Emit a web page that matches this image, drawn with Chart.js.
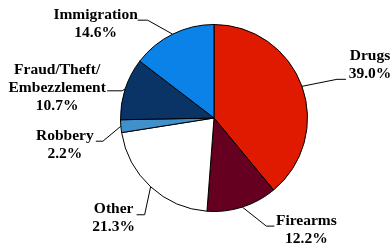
<!DOCTYPE html>
<html>
<head>
<meta charset="utf-8">
<script src="https://cdn.jsdelivr.net/npm/chart.js@4/dist/chart.umd.min.js"></script>
<style>
  html, body { margin: 0; padding: 0; background: #fff; }
  #wrap { width: 392px; height: 247px; position: relative; }
</style>
</head>
<body>
<div id="wrap"><canvas id="c"></canvas></div>
<script>
const categories = ["Drugs", "Firearms", "Other", "Robbery", "Fraud/Theft/\nEmbezzlement", "Immigration"];
const percentages = [39.0, 12.2, 21.3, 2.2, 10.7, 14.6];
const percentLabels = ["39.0%", "12.2%", "21.3%", "2.2%", "10.7%", "14.6%"];
const sliceColors = ["#E01A00", "#660020", "#FFFFFF", "#4090CC", "#0A3366", "#0A82E8"];

// Leader layout: elbow & end offsets from the arc's mid-edge point; first text line center offset from line end
const labelLayout = [
  { elbow: [35, -7],  end: [44, -7],  text: [24, -23] },
  { elbow: [24, 19],  end: [32, 19],  text: [32, -5] },
  { elbow: [-6, 28],  end: [-14, 28], text: [-23, -6] },
  { elbow: [-18, 15], end: [-25, 15], text: [-31, -5] },
  { elbow: [-3, 2],   end: [-18, 2],  text: [-50, -21] },
  { elbow: [-25, -14], end: [-35, -14], text: [-42, -5] }
];

const leaderPlugin = {
  id: 'leaders',
  afterDraw(chart) {
    const ctx = chart.ctx;
    const meta = chart.getDatasetMeta(0);
    ctx.save();
    ctx.font = "bold 15.5px 'Liberation Serif', 'Times New Roman', serif";
    ctx.textAlign = 'center';
    ctx.textBaseline = 'middle';
    meta.data.forEach((arc, i) => {
      const p = arc.getProps(['x', 'y', 'startAngle', 'endAngle', 'outerRadius'], true);
      const mid = (p.startAngle + p.endAngle) / 2;
      const ex = p.x + Math.cos(mid) * p.outerRadius;
      const ey = p.y + Math.sin(mid) * p.outerRadius;
      const L = labelLayout[i];
      const bx = ex + L.elbow[0], by = ey + L.elbow[1];
      const tx = ex + L.end[0], ty = ey + L.end[1];
      ctx.strokeStyle = '#000';
      ctx.lineWidth = 1;
      ctx.beginPath();
      ctx.moveTo(ex, ey);
      ctx.lineTo(bx, by);
      ctx.lineTo(tx, ty);
      ctx.stroke();
      const lines = categories[i].split('\n').concat([percentLabels[i]]);
      const cx = tx + L.text[0];
      const cy = ty + L.text[1];
      const lh = 18;
      ctx.fillStyle = '#000';
      lines.forEach((ln, k) => {
        ctx.fillText(ln, cx, cy + k * lh);
      });
    });
    ctx.restore();
  }
};

new Chart(document.getElementById('c'), {
  type: 'pie',
  data: {
    labels: categories,
    datasets: [{
      data: percentages,
      backgroundColor: sliceColors,
      borderColor: '#000',
      borderWidth: 1
    }]
  },
  options: {
    responsive: true,
    maintainAspectRatio: false,
    animation: false,
    layout: { padding: { left: 120, right: 84, top: 24, bottom: 35 } },
    plugins: {
      legend: { display: false },
      tooltip: { enabled: false }
    }
  },
  plugins: [leaderPlugin]
});
</script>
</body>
</html>
